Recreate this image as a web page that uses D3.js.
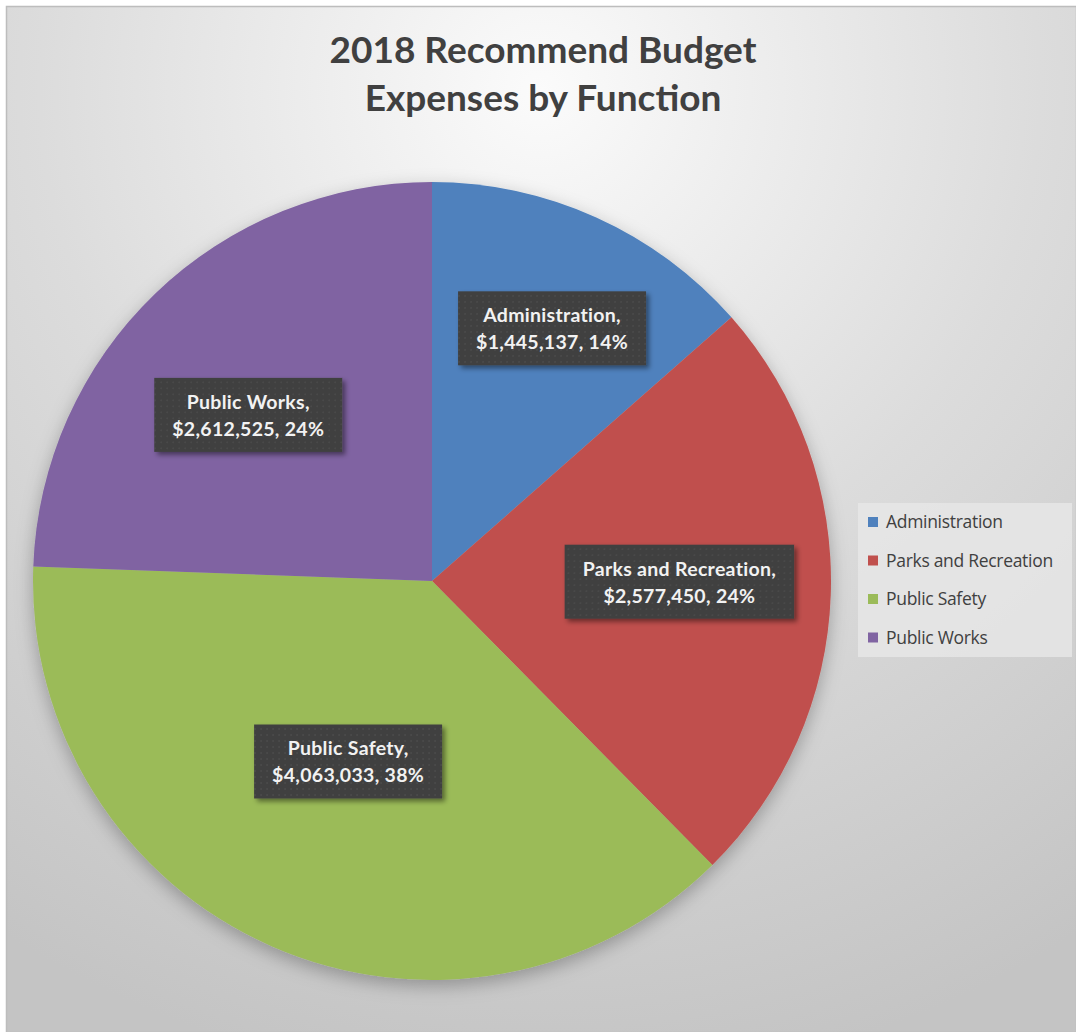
<!DOCTYPE html>
<html><head><meta charset="utf-8">
<script src="https://cdn.jsdelivr.net/npm/d3@7"></script>
<style>html,body{margin:0;padding:0;background:#fff;}svg{display:block;}</style>
</head><body>
<svg id="chart" width="1076" height="1032"></svg>
<script>
const categories = ["Administration", "Parks and Recreation", "Public Safety", "Public Works"];
const values = [1445137, 2577450, 4063033, 2612525];
const percentLabels = ["14%", "24%", "38%", "24%"];
const titleLines = ["2018 Recommend Budget", "Expenses by Function"];

const colors = ["#4f81bd", "#c0504d", "#9bbb59", "#8064a2"];
// label placement (fraction of pie radius / angle nudge), Excel "best fit" look
const labelRadiusFactor = [0.70, 0.62, 0.50, 0.62];
const labelAngleShift = [0.02, -0.03, 0.02, -0.07];

const svg = d3.select("#chart");
const W = 1076, H = 1032;
const defs = svg.append("defs");

const bg = defs.append("radialGradient").attr("id", "bg")
  .attr("gradientUnits", "userSpaceOnUse")
  .attr("cx", 540).attr("cy", 90).attr("r", 1000);
bg.append("stop").attr("offset", "0").attr("stop-color", "#fbfbfb");
bg.append("stop").attr("offset", "0.5").attr("stop-color", "#dcdcdc");
bg.append("stop").attr("offset", "1").attr("stop-color", "#c4c4c4");

const sh = defs.append("filter").attr("id", "pieShadow")
  .attr("x", "-20%").attr("y", "-20%").attr("width", "140%").attr("height", "140%");
sh.append("feDropShadow").attr("dx", 0).attr("dy", 6).attr("stdDeviation", 9)
  .attr("flood-color", "#000").attr("flood-opacity", 0.28);

const lsh = defs.append("filter").attr("id", "lblShadow")
  .attr("x", "-20%").attr("y", "-30%").attr("width", "140%").attr("height", "160%");
lsh.append("feDropShadow").attr("dx", 3).attr("dy", 3).attr("stdDeviation", 2.5)
  .attr("flood-color", "#000").attr("flood-opacity", 0.45);

const pat = defs.append("pattern").attr("id", "dots")
  .attr("width", 6).attr("height", 6).attr("patternUnits", "userSpaceOnUse");
pat.append("rect").attr("width", 6).attr("height", 6).attr("fill", "#3f3f3f");
pat.append("circle").attr("cx", 3).attr("cy", 3).attr("r", 0.9).attr("fill", "#4c4c4c");

svg.append("rect").attr("x", 0).attr("y", 0).attr("width", W).attr("height", H).attr("fill", "#fff");
svg.append("rect").attr("x", 6.5).attr("y", 6.5).attr("width", W - 6).attr("height", H - 6)
  .attr("fill", "url(#bg)").attr("stroke", "#bdbdbd").attr("stroke-width", 1.5);

// title
svg.append("g").selectAll("text").data(titleLines).join("text")
  .attr("x", 543).attr("y", (d, i) => 63 + i * 48)
  .attr("text-anchor", "middle")
  .attr("font-family", "Lato, 'Open Sans', sans-serif")
  .attr("font-weight", "bold").attr("font-size", 37)
  .attr("fill", "#404040")
  .text(d => d);

const cx = 432, cy = 581, R = 399;
const data = categories.map((c, i) => ({ name: c, value: values[i], pct: percentLabels[i], color: colors[i], i }));
const pie = d3.pie().value(d => d.value).sort(null);
const arcs = pie(data);
const arc = d3.arc().innerRadius(0).outerRadius(R);

const g = svg.append("g").attr("transform", `translate(${cx},${cy})`);
g.append("g").attr("filter", "url(#pieShadow)")
  .selectAll("path").data(arcs).join("path")
  .attr("d", arc).attr("fill", d => d.data.color);

const fmt = d3.format("$,");
const lg = g.append("g");
arcs.forEach((a, i) => {
  const ang = (a.startAngle + a.endAngle) / 2 + labelAngleShift[i];
  const r = R * labelRadiusFactor[i];
  const x = Math.sin(ang) * r, y = -Math.cos(ang) * r;
  const grp = lg.append("g").attr("transform", `translate(${x},${y})`);
  const box = grp.append("rect").attr("fill", "url(#dots)").attr("filter", "url(#lblShadow)");
  const lines = [a.data.name + ",", fmt(a.data.value) + ", " + a.data.pct];
  const t = grp.append("g");
  lines.forEach((ln, j) => {
    t.append("text").attr("x", 0).attr("y", (j - 0.5) * 27 + 7)
      .attr("text-anchor", "middle")
      .attr("font-family", "Lato, 'Open Sans', sans-serif")
      .attr("font-weight", "bold").attr("font-size", 19.5)
      .attr("letter-spacing", 0.3)
      .attr("fill", "#f2f2f2").text(ln);
  });
  const bb = t.node().getBBox();
  const padX = 18, padY = 12;
  box.attr("x", bb.x - padX).attr("y", bb.y - padY)
    .attr("width", bb.width + 2 * padX).attr("height", bb.height + 2 * padY);
});

// legend
const leg = svg.append("g").attr("transform", "translate(858,503)");
leg.append("rect").attr("width", 214).attr("height", 154).attr("fill", "#e6e6e6").attr("opacity", 0.85);
const items = leg.selectAll("g.item").data(data).join("g").attr("class", "item")
  .attr("transform", (d, i) => `translate(10,${19 + i * 38.5})`);
items.append("rect").attr("x", 0).attr("y", -5).attr("width", 10).attr("height", 10).attr("fill", d => d.color);
items.append("text").attr("x", 18).attr("y", 6)
  .attr("font-family", "'Open Sans', sans-serif").attr("font-size", 17.5)
  .attr("letter-spacing", -0.3)
  .attr("fill", "#404040").text(d => d.name);
</script>
</body></html>
